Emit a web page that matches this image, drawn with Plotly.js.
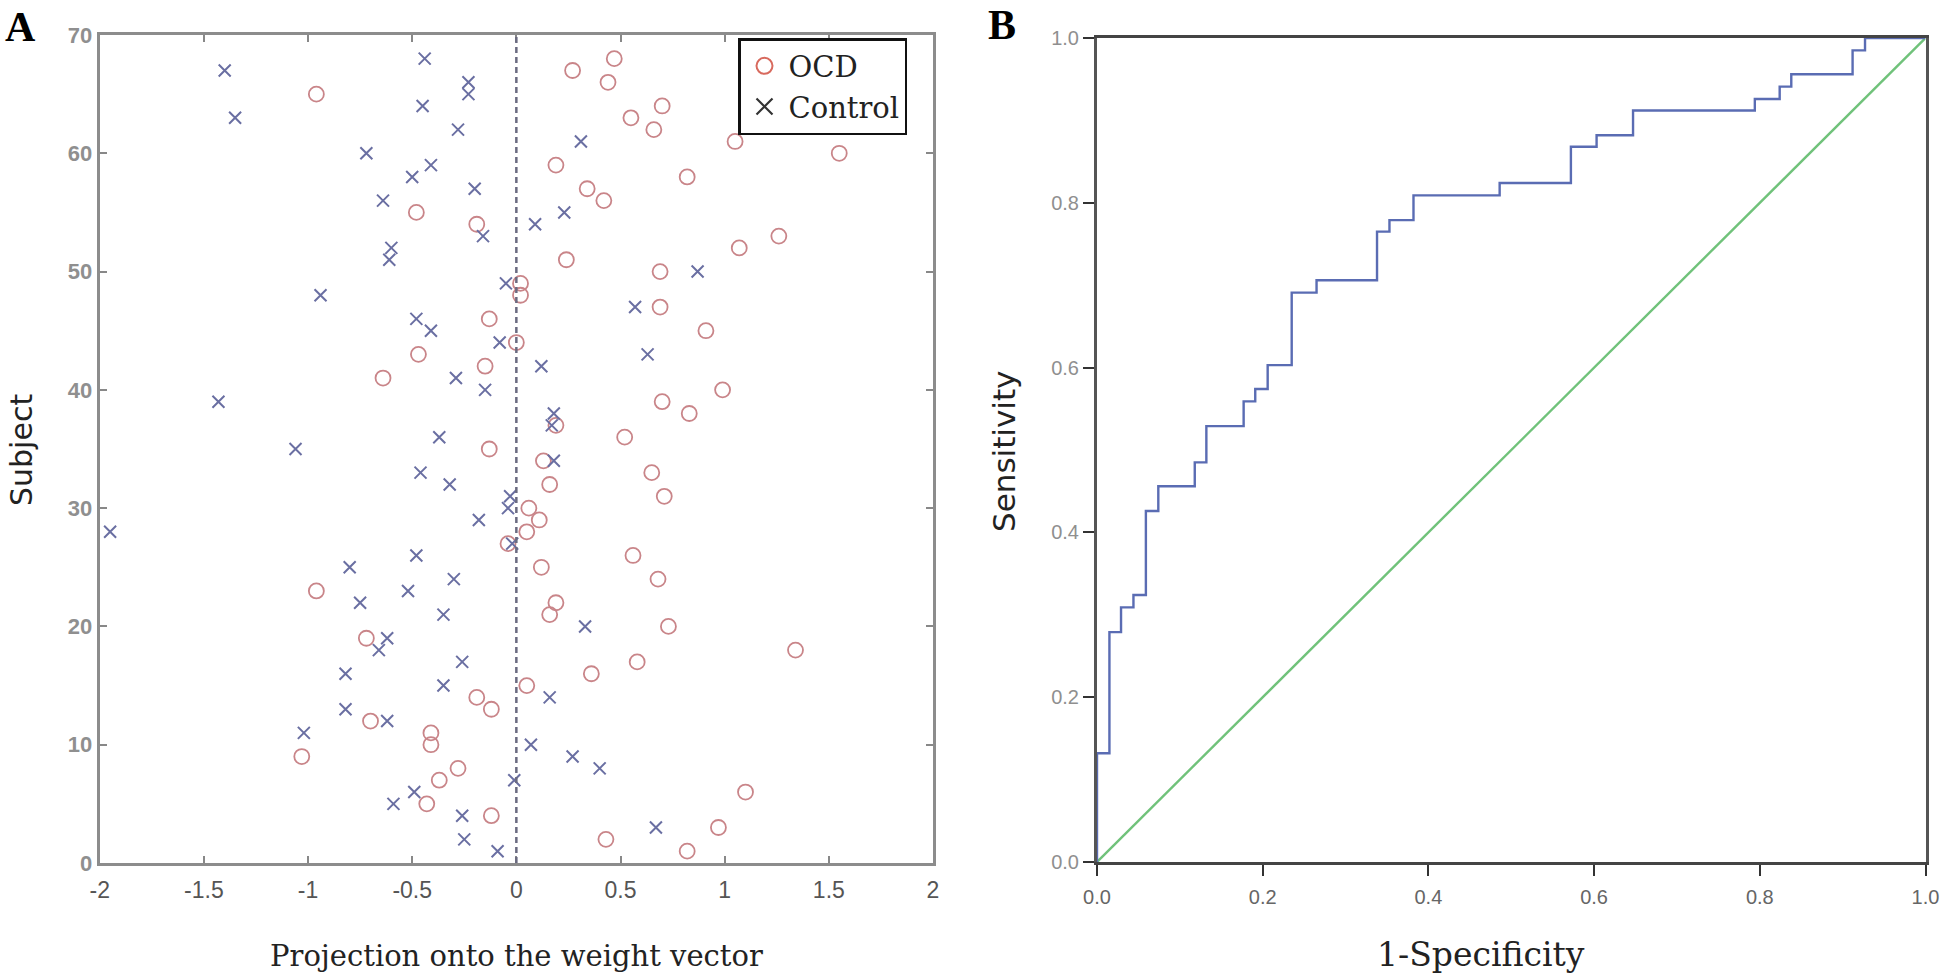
<!DOCTYPE html>
<html><head><meta charset="utf-8">
<script src="https://cdn.plot.ly/plotly-3.0.1.min.js"></script>
<style>html,body{margin:0;padding:0;background:#fff}#chart{width:1946px;height:977px}</style>
</head><body><div id="chart"></div><script>
// Panel A data
const subjects = [1,2,3,4,5,6,7,8,9,10,11,12,13,14,15,16,17,18,19,20,21,22,23,24,25,26,27,28,29,30,31,32,33,34,35,36,37,38,39,40,41,42,43,44,45,46,47,48,49,50,51,52,53,54,55,56,57,58,59,60,61,62,63,64,65,66,67,68];
const ocdX = [0.82,0.43,0.97,-0.12,-0.43,1.10,-0.37,-0.28,-1.03,-0.41,
              -0.41,-0.70,-0.12,-0.19,0.05,0.36,0.58,1.34,-0.72,0.73,
              0.16,0.19,-0.96,0.68,0.12,0.56,-0.04,0.05,0.11,0.06,
              0.71,0.16,0.65,0.13,-0.13,0.52,0.19,0.83,0.70,0.99,
              -0.64,-0.15,-0.47,0.00,0.91,-0.13,0.69,0.02,0.02,0.69,
              0.24,1.07,1.26,-0.19,-0.48,0.42,0.34,0.82,0.19,1.55,
              1.05,0.66,0.55,0.70,-0.96,0.44,0.27,0.47];
const controlX = [-0.09,-0.25,0.67,-0.26,-0.59,-0.49,-0.01,0.40,0.27,0.07,
                  -1.02,-0.62,-0.82,0.16,-0.35,-0.82,-0.26,-0.66,-0.62,0.33,
                  -0.35,-0.75,-0.52,-0.30,-0.80,-0.48,-0.02,-1.95,-0.18,-0.04,
                  -0.03,-0.32,-0.46,0.18,-1.06,-0.37,0.17,0.18,-1.43,-0.15,
                  -0.29,0.12,0.63,-0.08,-0.41,-0.48,0.57,-0.94,-0.05,0.87,
                  -0.61,-0.60,-0.16,0.09,0.23,-0.64,-0.20,-0.50,-0.41,-0.72,
                  0.31,-0.28,-1.35,-0.45,-0.23,-0.23,-1.40,-0.44];
const xTickVals = [-2,-1.5,-1,-0.5,0,0.5,1,1.5,2];
const xTickText = ['-2','-1.5','-1','-0.5','0','0.5','1','1.5','2'];
const yTickValsA = [0,10,20,30,40,50,60,70];

// Panel B data (ROC step vertices)
const rocFPR = [0,0.015,0.029,0.044,0.059,0.074,0.118,0.132,0.177,0.191,0.206,0.235,0.265,0.338,0.353,0.382,0.486,0.572,0.603,0.647,0.794,0.824,0.838,0.912,0.927,1.0];
const rocTPR = [0,0.132,0.279,0.309,0.324,0.426,0.456,0.485,0.529,0.559,0.574,0.603,0.691,0.706,0.765,0.779,0.809,0.824,0.868,0.882,0.912,0.926,0.941,0.956,0.985,1.0];
const refX = [0,1];
const refY = [0,1];
const bTickVals = [0,0.2,0.4,0.6,0.8,1.0];
const bTickText = ['0.0','0.2','0.4','0.6','0.8','1.0'];

const traces = [
  {x: ocdX, y: subjects, type:'scatter', mode:'markers', name:'OCD', showlegend:false,
   xaxis:'x', yaxis:'y',
   marker:{symbol:'circle-open', size:15, color:'#c98589', line:{width:1.8}}},
  {x: controlX, y: subjects, type:'scatter', mode:'markers', name:'Control', showlegend:false,
   xaxis:'x', yaxis:'y',
   marker:{symbol:'x-thin-open', size:12, color:'#6a6fa2', line:{width:2}}},
  {x:[null], y:[null], type:'scatter', mode:'markers', name:'OCD', xaxis:'x', yaxis:'y',
   marker:{symbol:'circle-open', size:18, color:'#d86a5e', line:{width:2}}},
  {x:[null], y:[null], type:'scatter', mode:'markers', name:'Control', xaxis:'x', yaxis:'y',
   marker:{symbol:'x-thin-open', size:16, color:'#333', line:{width:2.2}}},
  {x: refX, y: refY, type:'scatter', mode:'lines', showlegend:false, xaxis:'x2', yaxis:'y2',
   line:{color:'#70c27a', width:2.4}},
  {x: rocFPR, y: rocTPR, type:'scatter', mode:'lines', showlegend:false, xaxis:'x2', yaxis:'y2',
   line:{color:'#5a6cb3', width:2.4, shape:'vh'}}
];

const layout = {
  width:1946, height:977,
  margin:{l:0,r:0,t:0,b:0},
  paper_bgcolor:'#fff', plot_bgcolor:'#fff',
  showlegend:true,
  legend:{x:738/1946, y:1-38/977, xanchor:'left', yanchor:'top',
          bgcolor:'#fff', bordercolor:'#111', borderwidth:2.5,
          font:{family:'DejaVu Serif, serif', size:29, color:'#222'},
          itemwidth:38, tracegroupgap:0},
  xaxis:{domain:[99.7/1946, 933/1946], anchor:'y', range:[-2,2],
         tickmode:'array', tickvals:xTickVals, ticktext:xTickText,
         ticks:'inside', ticklen:7, tickwidth:1.5, tickcolor:'#888',
         showline:true, linecolor:'#8c8c8c', linewidth:3, mirror:'allticks',
         showgrid:false, zeroline:false, ticklabelstandoff:4,
         tickfont:{family:'Liberation Sans, Arial, sans-serif', size:23, color:'#555'}},
  yaxis:{domain:[1-863/977, 1-35/977], anchor:'x', range:[0,70],
         tickmode:'array', tickvals:yTickValsA,
         ticks:'inside', ticklen:7, tickwidth:1.5, tickcolor:'#888',
         showline:true, linecolor:'#8c8c8c', linewidth:3, mirror:'allticks',
         showgrid:false, zeroline:false,
         tickfont:{family:'Liberation Sans, Arial, sans-serif', size:22, color:'#8f8f8f', weight:'bold'}},
  xaxis2:{domain:[1097/1946, 1925.5/1946], anchor:'y2', range:[0,1],
          tickmode:'array', tickvals:bTickVals, ticktext:bTickText,
          ticks:'outside', ticklen:11, tickwidth:1.5, tickcolor:'#333',
          showline:true, linecolor:'#444', linewidth:3, mirror:true,
          showgrid:false, zeroline:false, ticklabelstandoff:4,
          tickfont:{family:'Liberation Sans, Arial, sans-serif', size:20, color:'#666'}},
  yaxis2:{domain:[1-862/977, 1-38/977], anchor:'x2', range:[0,1],
          tickmode:'array', tickvals:bTickVals, ticktext:bTickText,
          ticks:'outside', ticklen:11, tickwidth:1.5, tickcolor:'#333',
          showline:true, linecolor:'#555', linewidth:3, mirror:true,
          showgrid:false, zeroline:false,
          tickfont:{family:'Liberation Sans, Arial, sans-serif', size:20, color:'#8f8f8f'}},
  shapes:[
    {type:'line', xref:'x', yref:'y', x0:0, x1:0, y0:0, y1:70,
     line:{color:'#6a6a80', width:2.5, dash:'6px,4px'}}
  ],
  annotations:[
    {text:'<b>A</b>', xref:'paper', yref:'paper', x:20/1946, y:1-27/977, xanchor:'center', yanchor:'middle',
     showarrow:false, font:{family:'Liberation Serif, serif', size:42, color:'#000'}},
    {text:'<b>B</b>', xref:'paper', yref:'paper', x:1002/1946, y:1-25/977, xanchor:'center', yanchor:'middle',
     showarrow:false, font:{family:'Liberation Serif, serif', size:42, color:'#000'}},
    {text:'Subject', xref:'paper', yref:'paper', x:22/1946, y:1-450/977, xanchor:'center', yanchor:'middle',
     textangle:-90, showarrow:false, font:{family:'DejaVu Sans, sans-serif', size:30, color:'#222'}},
    {text:'Sensitivity', xref:'paper', yref:'paper', x:1004/1946, y:1-452/977, xanchor:'center', yanchor:'middle',
     textangle:-90, showarrow:false, font:{family:'DejaVu Sans, sans-serif', size:31, color:'#222'}},
    {text:'Projection onto the weight vector', xref:'paper', yref:'paper', x:516/1946, y:1-956/977, xanchor:'center', yanchor:'middle',
     showarrow:false, font:{family:'DejaVu Serif, serif', size:29, color:'#222'}},
    {text:'1-Specificity', xref:'paper', yref:'paper', x:1481/1946, y:1-954/977, xanchor:'center', yanchor:'middle',
     showarrow:false, font:{family:'DejaVu Serif, serif', size:33, color:'#222'}}
  ]
};

Plotly.newPlot('chart', traces, layout, {displayModeBar:false, responsive:false});
</script></body></html>
